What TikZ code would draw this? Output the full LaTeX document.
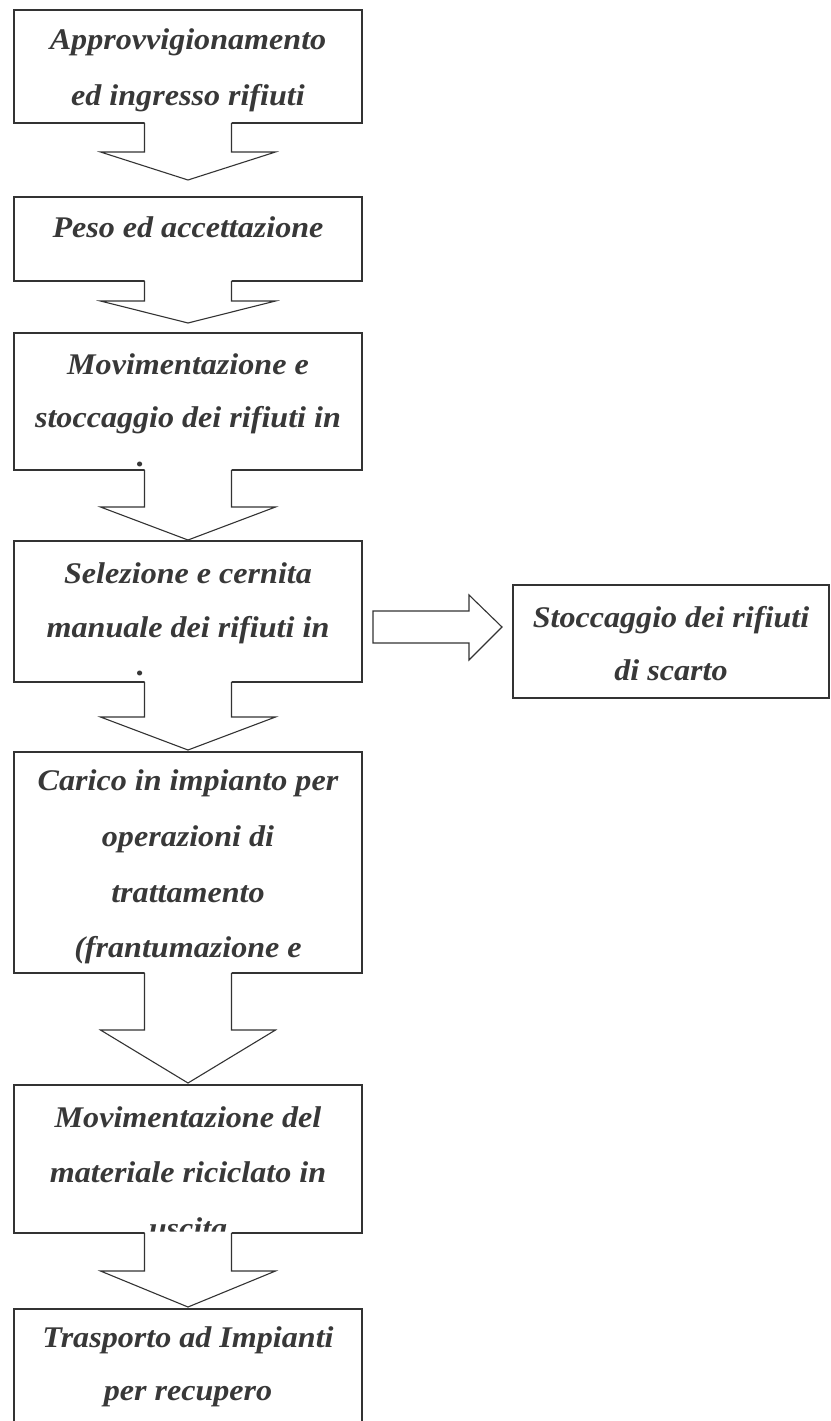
\documentclass[tikz,border=0pt]{standalone}
\usepackage{fontspec}
\newfontfamily\boxfont{Liberation Serif}[FakeStretch=1.07]
\usetikzlibrary{calc}
\tikzset{
  ln/.style={draw=black!80, line width=1.1pt, line join=miter},
  box/.style={ln, rectangle, inner sep=0pt, outer sep=0pt, anchor=north west},
  lbl/.style={anchor=base, inner sep=0pt, text=black!78,
    font=\boxfont\bfseries\itshape\fontsize{30}{36}\selectfont}
}
\newcommand\blkarrow[3]{%
  \fill[white] ($(#1.south)+(-43.5,1.5)$) -- ++(0,-#2-1.5) -- ++(-44,0)
     -- ($(#1.south)+(0,-#2-#3)$) -- ($(#1.south)+(87.5,-#2)$) -- ++(-44,0)
     -- ++(0,#2+1.5) -- cycle;
  \draw[ln] ($(#1.south)+(-43.5,0)$) -- ++(0,-#2) -- ++(-44,0)
     -- ($(#1.south)+(0,-#2-#3)$) -- ($(#1.south)+(87.5,-#2)$) -- ++(-44,0)
     -- ++(0,#2);
}
\begin{document}
\begin{tikzpicture}[x=1pt,y=1pt]
\useasboundingbox (0,0) rectangle (830,-1421);
\fill[white] (0,0) rectangle (830,-1421);
\clip (0,0) rectangle (830,-1421);

% boxes
\node[box, minimum width=348, minimum height=113] (b1) at (14,-10) {};
\node[box, minimum width=348, minimum height=84]  (b2) at (14,-197) {};
\node[box, minimum width=348, minimum height=137] (b3) at (14,-333) {};
\node[box, minimum width=348, minimum height=141] (b4) at (14,-541) {};
\node[box, minimum width=348, minimum height=221] (b5) at (14,-752) {};
\node[box, minimum width=348, minimum height=148] (b6) at (14,-1085) {};
\node[box, minimum width=348, minimum height=140] (b7) at (14,-1309) {};
\node[box, minimum width=316, minimum height=113] (r)  at (513,-585) {};

% texts
\node[lbl] (t1a) at (188,-50) {Approvvigionamento};
\node[lbl] (t1b) at (188,-105) {ed ingresso rifiuti};
\node[lbl] (t2a) at (188,-237) {Peso ed accettazione};
\node[lbl] (t3a) at (188,-374) {Movimentazione e};
\node[lbl] (t3b) at (188,-427) {stoccaggio dei rifiuti in};
\node[lbl] (t3c) at (141,-466) {.};
\node[lbl] (t4a) at (188,-583) {Selezione e cernita};
\node[lbl] (t4b) at (188,-637) {manuale dei rifiuti in};
\node[lbl] (t4c) at (141,-675) {.};
\node[lbl] (t5a) at (188,-790) {Carico in impianto per};
\node[lbl] (t5b) at (188,-846) {operazioni di};
\node[lbl] (t5c) at (188,-902) {trattamento};
\node[lbl] (t5d) at (188,-957) {(frantumazione e};
\node[lbl] (t6a) at (188,-1127) {Movimentazione del};
\node[lbl] (t6b) at (188,-1182) {materiale riciclato in};
\begin{scope}
  \clip (14,-1085) rectangle (362,-1231);
  \node[lbl] (t6c) at (188,-1238) {uscita};
\end{scope}
\node[lbl] (t7a) at (188,-1347) {Trasporto ad Impianti};
\node[lbl] (t7b) at (188,-1400) {per recupero};
\node[lbl] (ra) at (671,-627) {Stoccaggio dei rifiuti};
\node[lbl] (rb) at (671,-680) {di scarto};

% block arrows
\blkarrow{b1}{29}{28}
\blkarrow{b2}{20}{22}
\blkarrow{b3}{37}{33}
\blkarrow{b4}{35}{33}
\blkarrow{b5}{57}{53}
\blkarrow{b6}{38}{36}

% horizontal arrow
\coordinate (hs) at ($(b4.east)+(11,-15.5)$);
\draw[ln, fill=white] ($(hs)+(0,16)$) -- ++(96,0) -- ++(0,16)
   -- ($(hs)+(129,0)$) -- ($(hs)+(96,-33)$) -- ++(0,17)
   -- ($(hs)+(0,-16)$) -- cycle;
\end{tikzpicture}
\end{document}
